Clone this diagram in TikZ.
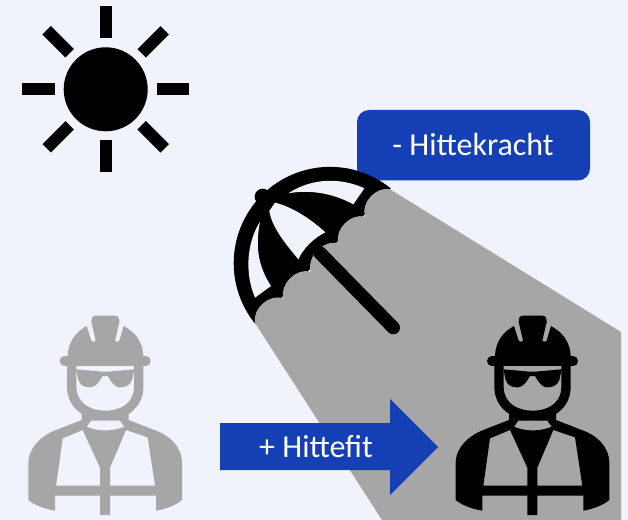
\documentclass[tikz,border=0pt]{standalone}
\usepackage{fontspec}
\setmainfont{Carlito}
\usetikzlibrary{positioning}
\definecolor{bgcol}{RGB}{240,243,251}
\definecolor{shadecol}{RGB}{166,166,166}
\definecolor{bluecol}{RGB}{21,63,181}
\tikzset{
  ray/.style={line width=9pt,black},
  labeltext/.style={text=white,font=\fontsize{24}{28}\selectfont,inner sep=0pt},
  zoomed/.style={shift={(#1)},x=0.25pt,y=-0.25pt},
  pics/worker/.style={code={
    % helmet
    \fill[#1] (165,172) .. controls (165,125) and (190,95) .. (222,78) -- (236,122)
      .. controls (240,127) and (246,127) .. (249,122) -- (236,66) .. controls (236,52) and (240,47) .. (250,47)
      -- (306,47) .. controls (316,47) and (320,52) .. (320,66) -- (307,122)
      .. controls (310,127) and (316,127) .. (320,122) -- (333,78)
      .. controls (365,95) and (392,125) .. (392,172) -- cycle;
    \draw[#1,line width=7pt,line cap=round] (155,183) -- (400,183);
    % face and glasses
    \draw[#1,line width=7pt] (177,190) -- (177,260) .. controls (177,315) and (222,346) .. (278,346)
      .. controls (334,346) and (378,315) .. (378,260) -- (378,190);
    \fill[#1] (190,208) -- (270,215) -- (285,215) -- (365,208) -- (358,240) .. controls (352,258) and (335,263) .. (318,262)
      .. controls (305,260) and (295,245) .. (285,228) -- (270,228) .. controls (260,245) and (250,260) .. (235,262)
      .. controls (218,263) and (203,258) .. (197,240) -- cycle;
    % body with vest panels
    \fill[#1,even odd rule] (47,600) -- (47,490) .. controls (47,440) and (90,405) .. (130,390) -- (207,360) -- (207,335)
      -- (348,335) -- (348,360) -- (425,390) .. controls (470,405) and (508,440) .. (508,490) -- (508,600)
      .. controls (490,615) and (460,627) .. (430,632) -- (430,587) -- (292,587) -- (292,645) -- (262,645) -- (262,587)
      -- (127,587) -- (127,632) .. controls (95,627) and (65,615) .. (47,600) -- cycle
      (150,415) -- (210,390) -- (262,503) -- (262,557) -- (130,557) -- cycle
      (405,412) -- (340,390) -- (292,503) -- (292,557) -- (427,557) -- cycle
      (222,380) -- (235,362) -- (322,362) -- (335,380) .. controls (300,395) and (255,395) .. (222,380) -- cycle;
  }}
}
\begin{document}
\begin{tikzpicture}[x=0.75pt,y=-0.75pt]
  \useasboundingbox (0,0) rectangle (628,520);
  \fill[bgcol] (0,0) rectangle (628,520);
  % sun
  \fill[black] (105.7,89.3) circle[radius=31.5pt];
  \draw[ray] (105.7,6) -- (105.7,38);
  \draw[ray] (105.7,140.5) -- (105.7,172.5);
  \draw[ray] (22,89.3) -- (55,89.3);
  \draw[ray] (157,89.3) -- (189,89.3);
  \draw[ray] (46.7,30.3) -- (69.7,53.3);
  \draw[ray] (164.7,30.3) -- (141.7,53.3);
  \draw[ray] (46.7,148.3) -- (69.7,125.3);
  \draw[ray] (164.7,148.3) -- (141.7,125.3);
  % label box
  \fill[bluecol,rounded corners=9pt] (357,110) rectangle (590,180.5);
  \node[labeltext] (kracht) at (473,144.5) {- Hittekracht};
  % umbrella
  \begin{scope}[zoomed={220,150}]
    \fill[black] (512,115) arc[start angle=51,end angle=219,radius=72.25pt] -- cycle;
    \fill[black] (128,140) circle[radius=6pt];
    \fill[bgcol] (205,130) .. controls (280,80) and (370,85) .. (433,115) -- (400,163)
      .. controls (340,130) and (270,118) .. (205,130) -- cycle;
    \fill[bgcol] (165,158) -- (148,183) .. controls (155,230) and (195,280) .. (235,328)
      .. controls (250,295) and (280,265) .. (316,247) .. controls (270,205) and (215,170) .. (165,158) -- cycle;
    \fill[bgcol] (120,215) .. controls (85,270) and (70,360) .. (105,443) -- (153,408)
      .. controls (115,350) and (105,290) .. (120,215) -- cycle;
  \end{scope}
  % shade
  \fill[shadecol] (255,323) to[bend left=60] (283.3,298.3) to[bend left=60] (310.7,271.7)
    to[bend left=60] (338.3,243.3) to[bend left=60] (365,216.7) to[bend left=60] (390,189.3)
    -- (621,332) -- (621,520) -- (382,520) -- cycle;
  \draw[black,line width=10pt,line cap=round] (320,253) -- (393.3,327.7);
  % workers
  \begin{scope}[zoomed={12.7,300}]
    \pic {worker=shadecol};
  \end{scope}
  \begin{scope}[zoomed={440,300}]
    \pic {worker=black};
  \end{scope}
  % arrow
  \fill[bluecol] (220,423) -- (390,423) -- (390,399) -- (438,447) -- (390,495) -- (390,470) -- (220,470) -- cycle;
  \node[labeltext] (fit) at (316,447) {+ Hittefit};
\end{tikzpicture}
\end{document}
